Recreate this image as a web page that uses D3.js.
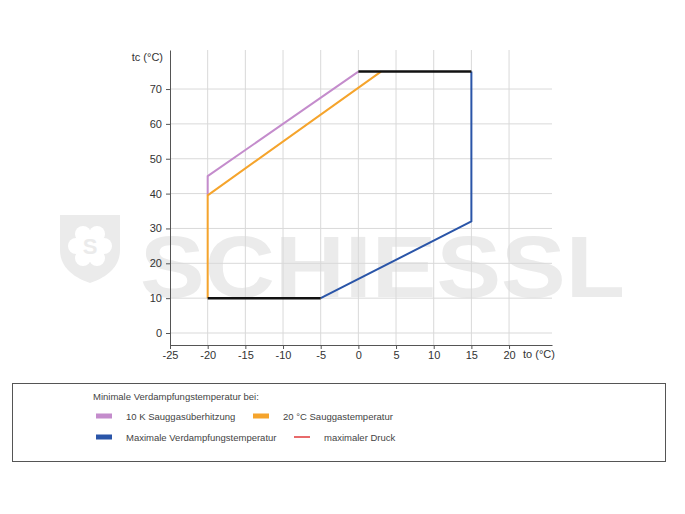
<!DOCTYPE html>
<html><head><meta charset="utf-8">
<script src="https://cdn.jsdelivr.net/npm/d3@7"></script>
<style>body{margin:0;background:#fff;} svg{display:block;font-family:"Liberation Sans",Arial,sans-serif;}</style>
</head><body>
<svg id="c" width="685" height="514"></svg>
<script>
const xTicks = [-25,-20,-15,-10,-5,0,5,10,15,20];
const yTicks = [0,10,20,30,40,50,60,70];
const pinkTo = [-20,-20,0];
const pinkTc = [39.5,45,75];
const orangeTo = [-20,-20,3];
const orangeTc = [10,39.5,75];
const blueTo = [-5,15,15];
const blueTc = [10,32,75];
const blackLowTo = [-20,-5];
const blackLowTc = [10,10];
const blackTopTo = [0,15];
const blackTopTc = [75,75];
const legendTitle = "Minimale Verdampfungstemperatur bei:";
const legendItems = [
  {label:"10 K Sauggasüberhitzung", color:"#c48ccc", type:"bar"},
  {label:"20 °C Sauggastemperatur", color:"#f5a42c", type:"bar"},
  {label:"Maximale Verdampfungstemperatur", color:"#2a55a8", type:"bar"},
  {label:"maximaler Druck", color:"#e0383a", type:"line"}
];

const svg = d3.select("#c");
const x = d3.scaleLinear().domain([-25,25.7]).range([170,552]);
const y = d3.scaleLinear().domain([-3.44,81.2]).range([345,50]);

// watermark
const wm = svg.append("g").attr("fill","#ebebeb");
wm.append("path").attr("d","M60,215 L120,215 L120,250 C120,268 105,278 90,283 C75,278 60,268 60,250 Z");
const fl = svg.append("g").attr("transform","translate(90,246)");
for (let i=0;i<6;i++){
  fl.append("circle").attr("cx",Math.cos(i*Math.PI/3)*14).attr("cy",Math.sin(i*Math.PI/3)*14).attr("r",8).attr("fill","#fff");
}
fl.append("circle").attr("r",14).attr("fill","#fff");
fl.append("text").attr("text-anchor","middle").attr("y",8).attr("font-size",22).attr("font-weight","bold").attr("fill","#ebebeb").text("S");
wm.append("text").attr("x",140).attr("y",297).attr("font-size",87).attr("font-weight","bold")
  .attr("textLength",485).attr("lengthAdjust","spacingAndGlyphs").text("SCHIESSL");

// grid
const g = svg.append("g");
g.selectAll(".vg").data(xTicks.slice(1)).join("line")
  .attr("x1",d=>x(d)).attr("x2",d=>x(d)).attr("y1",50).attr("y2",345)
  .attr("stroke","#d9d9d9").attr("stroke-width",1);
g.selectAll(".hg").data(yTicks).join("line")
  .attr("x1",170).attr("x2",552).attr("y1",d=>y(d)).attr("y2",d=>y(d))
  .attr("stroke","#d9d9d9").attr("stroke-width",1);

// axes
const fmt = d=>String(d);
const xa = svg.append("g").attr("transform","translate(0,345)")
  .call(d3.axisBottom(x).tickValues(xTicks).tickFormat(fmt).tickSize(4).tickSizeOuter(0));
const ya = svg.append("g").attr("transform","translate(170,0)")
  .call(d3.axisLeft(y).tickValues(yTicks).tickFormat(fmt).tickSize(4).tickSizeOuter(0));
[xa,ya].forEach(a=>{
  a.select(".domain").attr("stroke","#555");
  a.selectAll(".tick line").attr("stroke","#555");
  a.selectAll("text").attr("fill","#333").attr("font-size",11).attr("font-family","Liberation Sans, Arial, sans-serif");
});
ya.selectAll("text").attr("x",-8);
xa.selectAll("text").attr("y",6);

svg.append("text").attr("x",163).attr("y",61).attr("text-anchor","end").attr("font-size",11).attr("fill","#333").text("tc (°C)");
svg.append("text").attr("x",523).attr("y",358).attr("font-size",11).attr("fill","#333").text("to (°C)");

// lines
const line = d3.line().x(d=>x(d[0])).y(d=>y(d[1]));
const zip = (a,b)=>a.map((v,i)=>[v,b[i]]);
const draw = (to,tc,col,w)=>svg.append("path").datum(zip(to,tc)).attr("d",line)
  .attr("fill","none").attr("stroke",col).attr("stroke-width",w).attr("stroke-linejoin","round");
draw(pinkTo,pinkTc,legendItems[0].color,2);
draw(orangeTo,orangeTc,legendItems[1].color,2);
draw(blueTo,blueTc,legendItems[2].color,2);
draw(blackLowTo,blackLowTc,"#111",2.5);
draw(blackTopTo,blackTopTc,"#111",2.5);

// legend
const lg = svg.append("g");
lg.append("rect").attr("x",12.5).attr("y",383.5).attr("width",653).attr("height",78)
  .attr("fill","#fff").attr("stroke","#555").attr("stroke-width",1);
lg.append("text").attr("x",93).attr("y",400).attr("font-size",9.5).attr("fill","#444").text(legendTitle);
const pos = [[96,416],[253,416],[96,437],[294,437]];
legendItems.forEach((it,i)=>{
  const [px,py]=pos[i];
  if(it.type==="bar"){
    lg.append("rect").attr("x",px).attr("y",py-2.5).attr("width",16).attr("height",5).attr("fill",it.color);
  } else {
    lg.append("line").attr("x1",px).attr("x2",px+16).attr("y1",py).attr("y2",py).attr("stroke",it.color).attr("stroke-width",1.5);
  }
  lg.append("text").attr("x",px+30).attr("y",py+3.5).attr("font-size",9.5).attr("fill","#444").text(it.label);
});
</script>
</body></html>
